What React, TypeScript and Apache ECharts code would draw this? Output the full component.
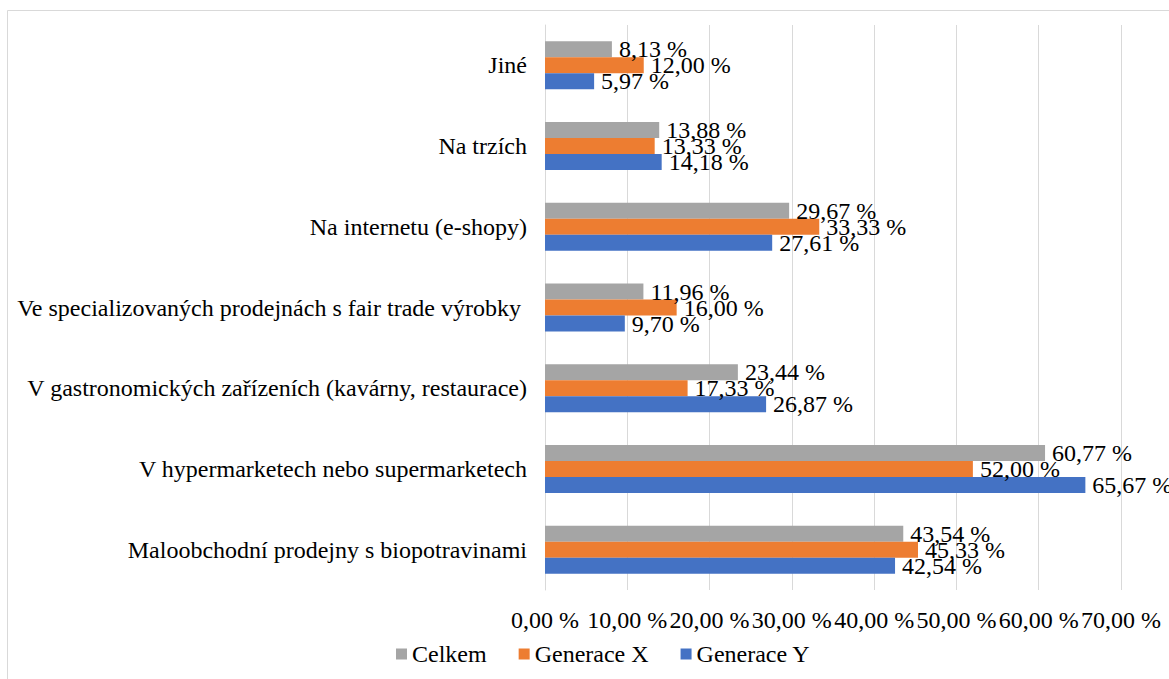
import React, { useEffect, useRef } from "react";
import * as echarts from "echarts";

const categories = [
  "Maloobchodní prodejny s biopotravinami",
  "V hypermarketech nebo supermarketech",
  "V gastronomických zařízeních (kavárny, restaurace)",
  "Ve specializovaných prodejnách s fair trade výrobky ",
  "Na internetu (e-shopy)",
  "Na trzích",
  "Jiné",
];
const generaceY = [42.54, 65.67, 26.87, 9.7, 27.61, 14.18, 5.97];
const generaceX = [45.33, 52.0, 17.33, 16.0, 33.33, 13.33, 12.0];
const celkem = [43.54, 60.77, 23.44, 11.96, 29.67, 13.88, 8.13];
const xTicks = [0, 10, 20, 30, 40, 50, 60, 70];

const FONT = "'Liberation Serif', 'Times New Roman', Times, serif";
const FS = 24;
const fmt = (v: number) => v.toFixed(2).replace(".", ",") + " %";

export default function App() {
  const ref = useRef<HTMLDivElement>(null);
  useEffect(() => {
    document.body.style.margin = "0";
    const chart = echarts.init(ref.current!, null, { renderer: "svg" });
    const label = {
      show: true,
      position: "right" as const,
      distance: 7,
      color: "#000",
      fontFamily: FONT,
      fontSize: FS,
      formatter: (p: any) => fmt(p.value),
    };
    const mk = (name: string, data: number[], color: string) => ({
      name,
      type: "bar",
      data,
      barWidth: 16,
      barGap: "0%",
      itemStyle: { color },
      label,
    });
    chart.setOption({
      animation: false,
      graphic: [
        {
          type: "rect",
          shape: { x: 7.5, y: 10.5, width: 1300, height: 800 },
          style: { fill: "none", stroke: "#D9D9D9", lineWidth: 1 },
          silent: true,
        },
      ],
      grid: { left: 545, right: 48, top: 25, bottom: 89 },
      legend: {
        data: ["Celkem", "Generace X", "Generace Y"],
        bottom: 8,
        left: 391,
        itemWidth: 11,
        itemHeight: 11,
        itemGap: 32,
        icon: "rect",
        textStyle: { fontFamily: FONT, fontSize: FS, color: "#000" },
      },
      xAxis: {
        type: "value",
        min: 0,
        max: 70,
        interval: 10,
        axisLine: { show: false },
        axisTick: { show: false },
        splitLine: { lineStyle: { color: "#D9D9D9" } },
        axisLabel: {
          color: "#000",
          fontFamily: FONT,
          fontSize: FS,
          margin: 18,
          formatter: (v: number) => (xTicks.includes(v) ? fmt(v) : ""),
        },
      },
      yAxis: {
        type: "category",
        data: categories,
        axisTick: { show: false },
        axisLine: { lineStyle: { color: "#D9D9D9" } },
        axisLabel: {
          color: "#000",
          fontFamily: FONT,
          fontSize: FS,
          margin: 18,
        },
      },
      series: [
        mk("Celkem", celkem, "#A5A5A5"),
        mk("Generace X", generaceX, "#ED7D31"),
        mk("Generace Y", generaceY, "#4472C4"),
      ],
    });
    return () => chart.dispose();
  }, []);
  return <div ref={ref} style={{ width: 1169, height: 679 }} />;
}
